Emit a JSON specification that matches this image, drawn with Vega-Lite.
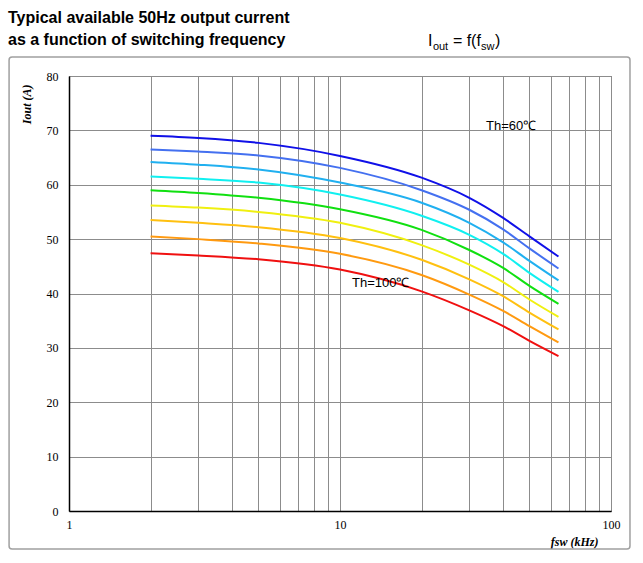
{
  "$schema": "https://vega.github.io/schema/vega-lite/v6.json",
  "width": 542,
  "height": 435,
  "autosize": {"type": "none"},
  "padding": {"left": 69, "top": 76, "right": 32, "bottom": 52},
  "background": "white",
  "title": {
    "text": ["Typical available 50Hz output current", "as a function of switching frequency"],
    "anchor": "start",
    "frame": "group",
    "font": "Liberation Sans",
    "fontSize": 16,
    "fontWeight": "bold",
    "color": "black",
    "lineHeight": 22,
    "dx": -61,
    "offset": -15
  },
  "config": {
    "view": {"stroke": "#555", "strokeWidth": 1},
    "axis": {
      "grid": true,
      "domainColor": "black",
      "domainWidth": 1.5,
      "gridColor": "#8c8c8c",
      "gridWidth": 1,
      "gridOpacity": 1,
      "ticks": false,
      "labelFont": "Liberation Serif",
      "labelFontSize": 12,
      "labelColor": "black",
      "titleFont": "Liberation Serif",
      "titleFontSize": 12,
      "titleFontStyle": "italic",
      "titleFontWeight": "bold",
      "titleColor": "black"
    }
  },
  "datasets": {
    "curves": [
      {"th": "60", "f": 2, "iout": 69.0}, {"th": "60", "f": 3, "iout": 68.6}, {"th": "60", "f": 5, "iout": 67.7}, {"th": "60", "f": 10, "iout": 65.3}, {"th": "60", "f": 20, "iout": 61.3}, {"th": "60", "f": 30, "iout": 57.6}, {"th": "60", "f": 40, "iout": 53.9}, {"th": "60", "f": 50, "iout": 50.5}, {"th": "60", "f": 64, "iout": 46.8},
      {"th": "65", "f": 2, "iout": 66.5}, {"th": "65", "f": 3, "iout": 66.1}, {"th": "65", "f": 5, "iout": 65.4}, {"th": "65", "f": 10, "iout": 63.1}, {"th": "65", "f": 20, "iout": 59.0}, {"th": "65", "f": 30, "iout": 55.4}, {"th": "65", "f": 40, "iout": 51.8}, {"th": "65", "f": 50, "iout": 48.3}, {"th": "65", "f": 64, "iout": 44.6},
      {"th": "70", "f": 2, "iout": 64.2}, {"th": "70", "f": 3, "iout": 63.7}, {"th": "70", "f": 5, "iout": 62.8}, {"th": "70", "f": 10, "iout": 60.4}, {"th": "70", "f": 20, "iout": 56.7}, {"th": "70", "f": 30, "iout": 53.0}, {"th": "70", "f": 40, "iout": 49.4}, {"th": "70", "f": 50, "iout": 46.0}, {"th": "70", "f": 64, "iout": 42.4},
      {"th": "75", "f": 2, "iout": 61.5}, {"th": "75", "f": 3, "iout": 61.1}, {"th": "75", "f": 5, "iout": 60.4}, {"th": "75", "f": 10, "iout": 58.2}, {"th": "75", "f": 20, "iout": 54.3}, {"th": "75", "f": 30, "iout": 50.8}, {"th": "75", "f": 40, "iout": 47.3}, {"th": "75", "f": 50, "iout": 43.8}, {"th": "75", "f": 64, "iout": 40.3},
      {"th": "80", "f": 2, "iout": 59.0}, {"th": "80", "f": 3, "iout": 58.5}, {"th": "80", "f": 5, "iout": 57.6}, {"th": "80", "f": 10, "iout": 55.5}, {"th": "80", "f": 20, "iout": 51.7}, {"th": "80", "f": 30, "iout": 48.0}, {"th": "80", "f": 40, "iout": 44.7}, {"th": "80", "f": 50, "iout": 41.4}, {"th": "80", "f": 64, "iout": 38.1},
      {"th": "85", "f": 2, "iout": 56.2}, {"th": "85", "f": 3, "iout": 55.8}, {"th": "85", "f": 5, "iout": 55.0}, {"th": "85", "f": 10, "iout": 53.0}, {"th": "85", "f": 20, "iout": 48.9}, {"th": "85", "f": 30, "iout": 45.3}, {"th": "85", "f": 40, "iout": 42.1}, {"th": "85", "f": 50, "iout": 38.9}, {"th": "85", "f": 64, "iout": 35.7},
      {"th": "90", "f": 2, "iout": 53.5}, {"th": "90", "f": 3, "iout": 53.0}, {"th": "90", "f": 5, "iout": 52.2}, {"th": "90", "f": 10, "iout": 50.2}, {"th": "90", "f": 20, "iout": 46.2}, {"th": "90", "f": 30, "iout": 42.6}, {"th": "90", "f": 40, "iout": 39.5}, {"th": "90", "f": 50, "iout": 36.5}, {"th": "90", "f": 64, "iout": 33.4},
      {"th": "95", "f": 2, "iout": 50.5}, {"th": "95", "f": 3, "iout": 50.0}, {"th": "95", "f": 5, "iout": 49.2}, {"th": "95", "f": 10, "iout": 47.3}, {"th": "95", "f": 20, "iout": 43.4}, {"th": "95", "f": 30, "iout": 39.8}, {"th": "95", "f": 40, "iout": 36.8}, {"th": "95", "f": 50, "iout": 34.0}, {"th": "95", "f": 64, "iout": 31.0},
      {"th": "100", "f": 2, "iout": 47.4}, {"th": "100", "f": 3, "iout": 47.0}, {"th": "100", "f": 5, "iout": 46.3}, {"th": "100", "f": 10, "iout": 44.4}, {"th": "100", "f": 20, "iout": 40.4}, {"th": "100", "f": 30, "iout": 36.9}, {"th": "100", "f": 40, "iout": 34.0}, {"th": "100", "f": 50, "iout": 31.3}, {"th": "100", "f": 64, "iout": 28.5}
    ],
    "labels": [
      {"label": "Th=60℃", "f": 34.6, "iout": 70.8},
      {"label": "Th=100℃", "f": 11.07, "iout": 41.9}
    ]
  },
  "layer": [
    {
      "data": {"values": [{}]},
      "mark": {"type": "rect", "fill": "transparent", "stroke": "#a0a0a0", "strokeWidth": 1.5, "cornerRadius": 3, "clip": false},
      "encoding": {
        "x": {"datum": 0.601, "type": "quantitative"},
        "x2": {"datum": 117.5},
        "y": {"datum": 83.5, "type": "quantitative"},
        "y2": {"datum": -7.0}
      }
    },
    {
      "data": {"name": "curves"},
      "mark": {"type": "line", "interpolate": "monotone", "strokeWidth": 2},
      "encoding": {
        "x": {
          "field": "f", "type": "quantitative",
          "scale": {"type": "log", "domain": [1, 100], "nice": false},
          "axis": {
            "title": "fsw (kHz)",
            "grid": true,
            "values": [1, 2, 3, 4, 5, 6, 7, 8, 9, 10, 20, 30, 40, 50, 60, 70, 80, 90, 100],
            "labelExpr": "datum.value == 1 || datum.value == 10 || datum.value == 100 ? datum.label : ''",
            "format": "d",
            "labelPadding": 8,
            "labelFlush": false,
            "labelOverlap": false,
            "titleAnchor": "end",
            "titleAlign": "right",
            "titleX": 529,
            "titleY": 25
          }
        },
        "y": {
          "field": "iout", "type": "quantitative",
          "scale": {"domain": [0, 80], "nice": false},
          "axis": {
            "title": "Iout (A)",
            "grid": true,
            "values": [0, 10, 20, 30, 40, 50, 60, 70, 80],
            "labelPadding": 11,
            "titleAnchor": "end",
            "titleAlign": "right",
            "titleX": -36,
            "titleY": 8
          }
        },
        "color": {
          "field": "th", "type": "nominal",
          "scale": {
            "domain": ["60", "65", "70", "75", "80", "85", "90", "95", "100"],
            "range": ["#1010E8", "#4470F0", "#20B0F0", "#10F0F0", "#10E010", "#F0F010", "#FFC010", "#FF9A10", "#F01010"]
          },
          "legend": null
        },
        "detail": {"field": "th"}
      }
    },
    {
      "data": {"name": "labels"},
      "mark": {"type": "text", "align": "left", "baseline": "middle", "font": "Liberation Sans", "fontSize": 13, "color": "black"},
      "encoding": {
        "x": {"field": "f", "type": "quantitative"},
        "y": {"field": "iout", "type": "quantitative"},
        "text": {"field": "label"}
      }
    },
    {
      "data": {"values": [{}]},
      "mark": {"type": "text", "align": "left", "baseline": "alphabetic", "font": "Liberation Sans", "fontSize": 16, "color": "black", "clip": false},
      "encoding": {"x": {"datum": 21.1, "type": "quantitative"}, "y": {"datum": 85.5, "type": "quantitative"}, "text": {"value": "I"}}
    },
    {
      "data": {"values": [{}]},
      "mark": {"type": "text", "align": "left", "baseline": "alphabetic", "font": "Liberation Sans", "fontSize": 11, "color": "black", "dx": 5, "dy": 4, "clip": false},
      "encoding": {"x": {"datum": 21.1, "type": "quantitative"}, "y": {"datum": 85.5, "type": "quantitative"}, "text": {"value": "out"}}
    },
    {
      "data": {"values": [{}]},
      "mark": {"type": "text", "align": "left", "baseline": "alphabetic", "font": "Liberation Sans", "fontSize": 16, "color": "black", "dx": 25, "clip": false},
      "encoding": {"x": {"datum": 21.1, "type": "quantitative"}, "y": {"datum": 85.5, "type": "quantitative"}, "text": {"value": "= f(f"}}
    },
    {
      "data": {"values": [{}]},
      "mark": {"type": "text", "align": "left", "baseline": "alphabetic", "font": "Liberation Sans", "fontSize": 11, "color": "black", "dx": 53, "dy": 4, "clip": false},
      "encoding": {"x": {"datum": 21.1, "type": "quantitative"}, "y": {"datum": 85.5, "type": "quantitative"}, "text": {"value": "sw"}}
    },
    {
      "data": {"values": [{}]},
      "mark": {"type": "text", "align": "left", "baseline": "alphabetic", "font": "Liberation Sans", "fontSize": 16, "color": "black", "dx": 67, "clip": false},
      "encoding": {"x": {"datum": 21.1, "type": "quantitative"}, "y": {"datum": 85.5, "type": "quantitative"}, "text": {"value": ")"}}
    }
  ]
}
